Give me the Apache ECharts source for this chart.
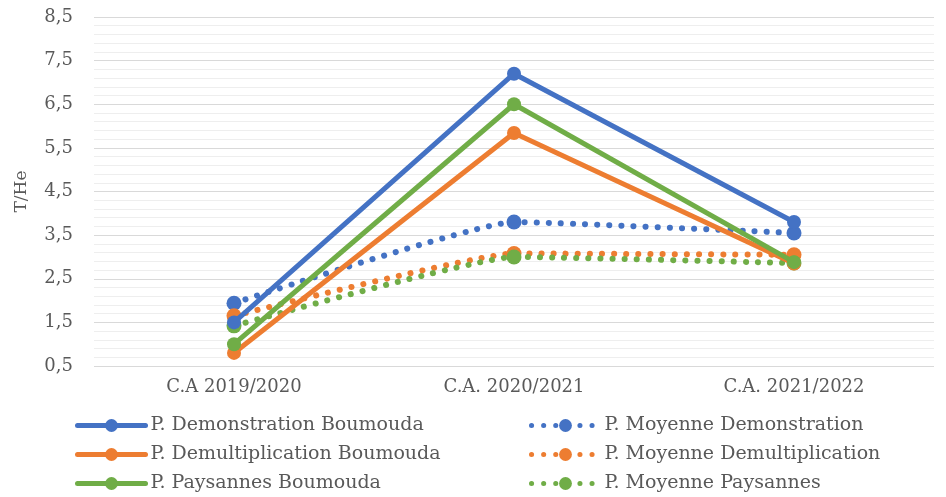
<!DOCTYPE html>
<html>
<head>
<meta charset="utf-8">
<script src="https://cdn.jsdelivr.net/npm/echarts@6/dist/echarts.min.js"></script>
<style>
html,body{margin:0;padding:0;background:#fff;}
#main{width:946px;height:497px;}
</style>
</head>
<body>
<div id="main"></div>
<script>
// categories and values
var campagnes = ['C.A 2019/2020', 'C.A. 2020/2021', 'C.A. 2021/2022'];
var demoBoumouda = [1.5, 7.2, 3.8];
var demultBoumouda = [0.8, 5.84, 2.85];
var paysBoumouda = [1.0, 6.5, 2.88];
var moyDemo = [1.94, 3.8, 3.55];
var moyDemult = [1.65, 3.08, 3.05];
var moyPays = [1.42, 3.0, 2.86];

var bleu = '#4472c4', orange = '#ed7d31', vert = '#70ad47';
var police = 'DejaVu Serif';
var pointille = [0.1, 12];

function plein(nom, couleur, data) {
	return {
		name: nom, type: 'line', data: data,
		symbol: 'circle', symbolSize: 14,
		lineStyle: {color: couleur, width: 5, cap: 'round'},
		itemStyle: {color: couleur},
		z: 3
	};
}
function moyenne(nom, couleur, data) {
	return {
		name: nom, type: 'line', data: data, smooth: 0.12,
		symbol: 'circle', symbolSize: 15,
		lineStyle: {color: couleur, width: 6, type: pointille, cap: 'round'},
		itemStyle: {color: couleur},
		z: 2
	};
}

var legendeCommune = {
	orient: 'vertical', top: 411, height: 86, itemGap: 10,
	itemWidth: 68, itemHeight: 16,
	lineStyle: {width: 5, cap: 'round'},
	textStyle: {color: '#595959', fontFamily: police, fontSize: 19}
};

var chart = echarts.init(document.getElementById('main'));
chart.setOption({
	animation: false,
	grid: {left: 94, right: 12, top: 17, bottom: 131},
	xAxis: {
		type: 'category',
		data: campagnes,
		axisLine: {show: false},
		axisTick: {show: false},
		axisLabel: {color: '#595959', fontFamily: police, fontSize: 18, margin: 12}
	},
	yAxis: {
		type: 'value',
		min: 0.5, max: 8.5, interval: 1,
		name: 'T/He',
		nameLocation: 'middle',
		nameGap: 64,
		nameTextStyle: {color: '#595959', fontFamily: police, fontSize: 17},
		axisLine: {show: false},
		axisTick: {show: false},
		axisLabel: {
			color: '#595959', fontFamily: police, fontSize: 18, margin: 21,
			formatter: function (v) { return v.toFixed(1).replace('.', ','); }
		},
		splitLine: {lineStyle: {color: '#d9d9d9', width: 1}},
		minorTick: {show: false, splitNumber: 5},
		minorSplitLine: {show: true, lineStyle: {color: '#eeeeee', width: 1}}
	},
	legend: [
		Object.assign({}, legendeCommune, {
			left: 70,
			data: ['P. Demonstration Boumouda', 'P. Demultiplication Boumouda', 'P. Paysannes Boumouda']
		}),
		Object.assign({}, legendeCommune, {
			left: 524,
			data: ['P. Moyenne Demonstration', 'P. Moyenne Demultiplication', 'P. Moyenne Paysannes']
		})
	],
	series: [
		moyenne('P. Moyenne Demonstration', bleu, moyDemo),
		moyenne('P. Moyenne Demultiplication', orange, moyDemult),
		moyenne('P. Moyenne Paysannes', vert, moyPays),
		plein('P. Demonstration Boumouda', bleu, demoBoumouda),
		plein('P. Demultiplication Boumouda', orange, demultBoumouda),
		plein('P. Paysannes Boumouda', vert, paysBoumouda)
	]
});
</script>
</body>
</html>
